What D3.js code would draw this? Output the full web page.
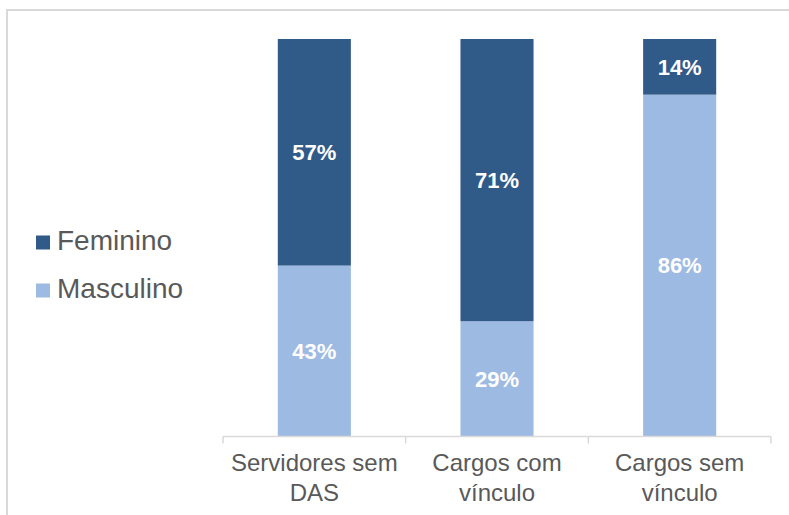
<!DOCTYPE html>
<html><head><meta charset="utf-8">
<script src="https://cdn.jsdelivr.net/npm/d3@7"></script>
<style>html,body{margin:0;padding:0;background:#fff;}svg{display:block;}</style>
</head><body>
<svg id="chart" width="789" height="515"></svg>
<script>
const categories = [["Servidores sem","DAS"],["Cargos com","vínculo"],["Cargos sem","vínculo"]];
const masculino = [43, 29, 86];
const feminino = [57, 71, 14];
const seriesNames = ["Feminino","Masculino"];
const colors = {Feminino:"#305A87", Masculino:"#9DBAE2"};

const svg = d3.select("#chart");
const font = "Liberation Sans, Arial, sans-serif";
const textGrey = "#595959";

// outer border
svg.append("rect").attr("x",7).attr("y",10).attr("width",800).attr("height",520)
  .attr("fill","none").attr("stroke","#d9d9d9").attr("stroke-width",2);

const x0 = 223, x1 = 771, yTop = 39, yBase = 436.5;
const x = d3.scaleBand().domain(d3.range(categories.length)).range([x0,x1]).padding(0);
const y = d3.scaleLinear().domain([0,100]).range([yBase,yTop]);
const bw = x.bandwidth()*0.4;

const data = categories.map((c,i)=>({i, m:masculino[i], f:feminino[i]}));

const g = svg.append("g");
// masculino (bottom)
g.selectAll(".m").data(data).join("rect")
  .attr("x",d=>x(d.i)+x.bandwidth()/2-bw/2).attr("width",bw)
  .attr("y",d=>y(d.m)).attr("height",d=>y(0)-y(d.m))
  .attr("fill",colors.Masculino);
// feminino (top)
g.selectAll(".f").data(data).join("rect")
  .attr("x",d=>x(d.i)+x.bandwidth()/2-bw/2).attr("width",bw)
  .attr("y",d=>y(d.m+d.f)).attr("height",d=>y(d.m)-y(d.m+d.f))
  .attr("fill",colors.Feminino);

// labels
const lab = (val, yc, xi) => g.append("text")
  .attr("x", x(xi)+x.bandwidth()/2).attr("y", yc).attr("dy","0.36em")
  .attr("text-anchor","middle").attr("fill","#fff")
  .attr("font-family",font).attr("font-weight","bold").attr("font-size",22)
  .text(val+"%");
data.forEach(d=>{
  lab(d.m, (y(0)+y(d.m))/2, d.i);
  lab(d.f, (y(d.m)+y(d.m+d.f))/2, d.i);
});

// axis
const axis = svg.append("g").attr("transform",`translate(0,${yBase})`);
axis.append("line").attr("x1",x0).attr("x2",x1).attr("y1",0).attr("y2",0)
  .attr("stroke","#d9d9d9").attr("stroke-width",1.5);
const tickPos = d3.range(categories.length+1).map(k=> k<categories.length ? x(k) : x1);
axis.selectAll(".tick").data(tickPos).join("line")
  .attr("x1",d=>d).attr("x2",d=>d).attr("y1",0).attr("y2",7)
  .attr("stroke","#d9d9d9").attr("stroke-width",1.5);
categories.forEach((c,i)=>{
  const t = svg.append("text").attr("text-anchor","middle")
    .attr("font-family",font).attr("font-size",24).attr("fill",textGrey);
  c.forEach((line,k)=>{
    t.append("tspan").attr("x",x(i)+x.bandwidth()/2).attr("y",471+k*29.5).text(line);
  });
});

// legend
seriesNames.forEach((s,k)=>{
  const by = 250 + k*48;
  svg.append("rect").attr("x",36).attr("y",by-14.5).attr("width",14).attr("height",14).attr("fill",colors[s]);
  svg.append("text").attr("x",57).attr("y",by).attr("font-family",font).attr("font-size",28)
    .attr("fill",textGrey).text(s);
});
</script>
</body></html>
